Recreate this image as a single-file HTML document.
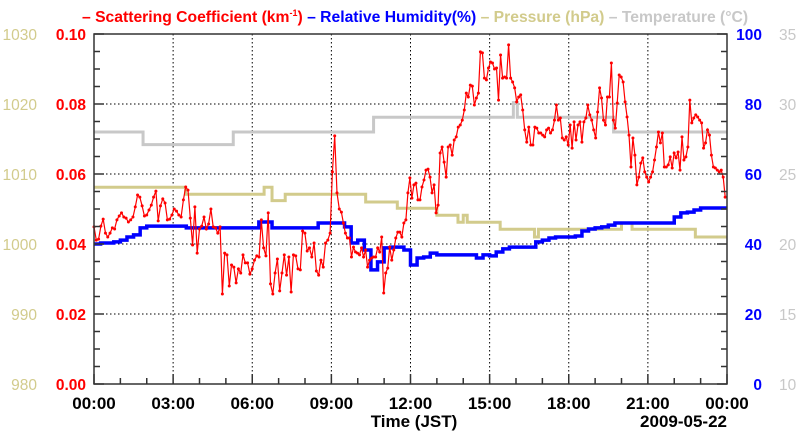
<!DOCTYPE html>
<html><head><meta charset="utf-8"><style>
body{margin:0;background:#fff;}
svg{display:block;font-family:"Liberation Sans",sans-serif;}
</style></head><body>
<svg id="chart" width="800" height="434" viewBox="0 0 800 434">
<g id="grid"></g>
<g id="series"></g>
<g id="axes"></g>
<text x="82" y="22" font-size="15.7" font-weight="bold"><tspan fill="#ff0000">– Scattering Coefficient (km<tspan font-size="9" dy="-6">-1</tspan><tspan dy="6">) </tspan></tspan><tspan fill="#0000ff">– Relative Humidity(%) </tspan><tspan fill="#d2cb8c">– Pressure (hPa) </tspan><tspan fill="#c8c8c8">– Temperature (°C)</tspan></text>
<text x="414" y="427" font-size="17" font-weight="bold" text-anchor="middle">Time (JST)</text>
<text x="727" y="427" font-size="17" font-weight="bold" text-anchor="end">2009-05-22</text>
</svg>
<script>
const xTickLabels = ["00:00","03:00","06:00","09:00","12:00","15:00","18:00","21:00","00:00"];
const scatTicks = ["0.00","0.02","0.04","0.06","0.08","0.10"];
const presTicks = ["980","990","1000","1010","1020","1030"];
const rhTicks = ["0","20","40","60","80","100"];
const tempTicks = ["10","15","20","25","30","35"];
const scatSegStart = [0, 9.38, 16.64];
const scatSegEnd = [9.30, 16.56, 23.93];
const scatSeg1 = [44.9,41.1,41.4,45.1,47.1,43.1,42.0,43.1,44.6,44.3,46.9,48.0,48.9,47.7,47.4,46.3,46.9,47.7,50.6,54.0,53.4,50.9,48.0,48.3,49.7,51.1,53.4,55.1,46.6,50.9,52.9,51.7,46.9,47.1,48.3,50.0,49.4,48.3,47.7,52.6,56.3,55.4,47.4,39.7,50.6,37.4,44.3,45.1,47.7,44.3,45.7,50.0,44.9,44.6,43.1,44.9,25.7,37.4,36.9,28.0,34.0,33.4,28.9,32.9,31.7,36.9,34.6,34.6,31.4,32.9,35.4,36.6,36.3,46.9,38.9,36.6,48.9,28.6,25.7,31.7,35.7,26.6,31.7,36.9,31.1,36.3,26.3,36.9,36.6,32.9,32.6,43.7,43.1,38.0,38.9,36.3,40.3,32.3,31.1,35.4,33.4,40.3,41.1,43.1,60.6,70.9,54.6,50.0];
const scatSeg2 = [49.1,46.0,43.1,41.7,41.7,36.3,39.1,37.7,37.4,36.9,38.9,36.3,38.3,33.4,35.4,36.0,36.3,36.3,38.9,37.7,42.0,26.0,31.7,33.1,39.1,35.4,38.3,41.7,43.4,43.4,42.0,46.0,46.9,54.6,58.9,53.1,56.9,57.4,52.6,52.6,56.3,58.3,61.1,61.4,59.1,54.6,56.9,48.9,51.1,66.0,67.7,63.4,59.1,67.7,68.3,65.4,69.7,70.6,73.4,74.0,75.4,78.3,83.1,82.0,85.4,85.1,79.7,81.7,83.1,94.9,94.6,87.4,86.9,90.3,92.0,91.7,90.0,90.3,81.1,94.0,87.4,87.7,87.4,96.9,87.4,86.3,84.6,80.6,82.0,82.6,78.3,72.6,69.1,73.4,68.3];
const scatSeg3 = [68.3,73.4,73.1,71.7,71.7,71.1,70.6,72.6,73.1,71.7,72.6,75.4,79.7,75.4,76.0,70.3,69.7,70.6,68.3,74.0,67.4,74.9,69.7,74.0,74.9,69.1,74.9,76.0,79.7,76.9,75.4,72.6,70.3,77.7,84.6,81.7,75.4,74.0,82.0,82.0,91.7,75.4,73.1,80.3,88.3,87.7,86.3,80.6,76.3,71.1,62.0,70.3,65.4,56.9,59.1,63.1,64.6,60.6,59.1,57.7,59.1,60.6,64.0,67.7,72.0,68.9,71.7,62.0,62.0,62.6,64.9,61.7,66.0,64.6,66.3,61.1,70.6,64.0,64.9,67.7,81.1,74.6,76.0,76.9,76.3,75.4,74.6,67.4,68.9,72.6,71.1,65.4,62.0,61.7,61.1,60.6,61.1,59.1,53.4];
const rhTimes = [0,0.25,0.75,1.0,1.25,1.5,1.75,2.0,3.5,6.25,6.75,8.5,9.5,9.75,10.0,10.25,10.5,10.75,11.0,11.25,11.75,12.0,12.25,12.5,12.75,13.0,14.5,14.75,15.0,15.25,15.5,15.75,16.75,17.0,17.25,17.5,18.25,18.5,18.75,19.0,19.25,19.5,19.75,22.0,22.25,22.5,22.75,23.0];
const rhValues = [40.0,40.3,40.6,41.1,42.0,42.6,44.6,45.1,44.6,46.3,44.6,46.0,44.9,40.3,41.1,38.3,32.6,34.9,38.9,39.1,38.3,34.0,36.0,36.3,37.4,36.9,36.0,36.9,36.6,37.7,38.6,39.1,40.6,41.1,41.7,42.0,42.3,43.7,44.3,44.6,44.9,45.4,46.0,47.7,48.9,49.1,49.7,50.3];
const presTimes = [0,3.47,6.45,6.75,7.25,10.3,11.5,13.0,13.8,14.0,14.15,15.4,16.7,16.85,20.0,20.4,22.8];
const presValues = [1008.1,1007.1,1008.1,1006.2,1007.1,1006.0,1005.1,1004.1,1003.1,1004.1,1003.1,1002.1,1001.0,1002.1,1003.0,1002.1,1001.0];
const tempTimes = [0,1.86,5.28,10.6,15.9,16.05,19.7];
const tempValues = [28.0,27.1,28.0,29.05,30.1,29.05,28.0];

const L=94,R=727,T=34,B=384;
const NS='http://www.w3.org/2000/svg';
const xS=h=>L+h/24*(R-L);
const yScat=v=>B-v/100*(B-T);
const yRH=v=>B-v/100*(B-T);
const yPres=v=>B-(v-980)/50*(B-T);
const yTemp=v=>B-(v-10)/25*(B-T);
function mk(tag,attrs,parent){const e=document.createElementNS(NS,tag);for(const k in attrs)e.setAttribute(k,attrs[k]);parent.appendChild(e);return e;}
const grid=document.getElementById('grid'),series=document.getElementById('series'),axes=document.getElementById('axes');
for(let i=1;i<8;i++){const g=mk('line',{x1:xS(i*3),x2:xS(i*3),y1:T,y2:B,stroke:'#000','stroke-width':1,'stroke-dasharray':'1.5,2.5'},grid);

}
for(let i=1;i<5;i++){const g=mk('line',{x1:L,x2:R,y1:yScat(i*20),y2:yScat(i*20),stroke:'#000','stroke-width':1,'stroke-dasharray':'1.5,2.5'},grid);

}
function stepPath(ts,vs,yf){let d='';for(let i=0;i<ts.length;i++){const x=xS(ts[i]),y=yf(vs[i]);if(i===0)d+='M'+x+','+y;else d+='H'+x+'V'+y;}return d+'H'+xS(24);}
const tp=mk('path',{d:stepPath(tempTimes,tempValues,yTemp),fill:'none',stroke:'#c8c8c8','stroke-width':3},series);


const pp=mk('path',{d:stepPath(presTimes,presValues,yPres),fill:'none',stroke:'#d2cb8c','stroke-width':3},series);


const hp=mk('path',{d:stepPath(rhTimes,rhValues,yRH),fill:'none',stroke:'#0000ff','stroke-width':3.5},series);


const scatPts=[];
[scatSeg1,scatSeg2,scatSeg3].forEach((seg,s)=>{const st=(scatSegEnd[s]-scatSegStart[s])/(seg.length-1);
seg.forEach((v,i)=>scatPts.push([scatSegStart[s]+i*st,v]));});
const sp=mk('polyline',{points:scatPts.map(p=>xS(p[0]).toFixed(1)+','+yScat(p[1]).toFixed(1)).join(' '),fill:'none',stroke:'#ff0000','stroke-width':1.2},series);


scatPts.forEach(p=>{const c=mk('circle',{cx:xS(p[0]),cy:yScat(p[1]),r:1.5,fill:'#ff0000'},series);

});
const fr=mk('rect',{x:L,y:T,width:R-L,height:B-T,fill:'none',stroke:'#333','stroke-width':1.5},axes);


for(let i=0;i<=20;i++){const y=B-i*(B-T)/20,len=i%4===0?10:6;
mk('line',{x1:L,x2:L+len,y1:y,y2:y,stroke:'#333','stroke-width':1.5},axes);
mk('line',{x1:R-len,x2:R,y1:y,y2:y,stroke:'#333','stroke-width':1.5},axes);}
for(let i=0;i<=24;i++){const x=xS(i),len=i%3===0?10:6;mk('line',{x1:x,x2:x,y1:B-len,y2:B,stroke:'#333','stroke-width':1.5},axes);}
xTickLabels.forEach((s,i)=>{const t=mk('text',{x:xS(i*3),y:409,'font-size':17,'font-weight':'bold','text-anchor':'middle'},axes);t.textContent=s;

});
for(let i=0;i<6;i++){const y=B-i*(B-T)/5+6;
const a=mk('text',{x:86,y:y,'font-size':15.5,'font-weight':'bold','text-anchor':'end',fill:'#ff0000'},axes);a.textContent=scatTicks[i];


const b=mk('text',{x:37,y:y,'font-size':15.5,'text-anchor':'end',fill:'#d2cb8c'},axes);b.textContent=presTicks[i];


const c=mk('text',{x:762,y:y,'font-size':15.5,'font-weight':'bold','text-anchor':'end',fill:'#0000ff'},axes);c.textContent=rhTicks[i];


const d=mk('text',{x:779,y:y,'font-size':15.5,fill:'#c8c8c8'},axes);d.textContent=tempTicks[i];

}
</script>
</body></html>
